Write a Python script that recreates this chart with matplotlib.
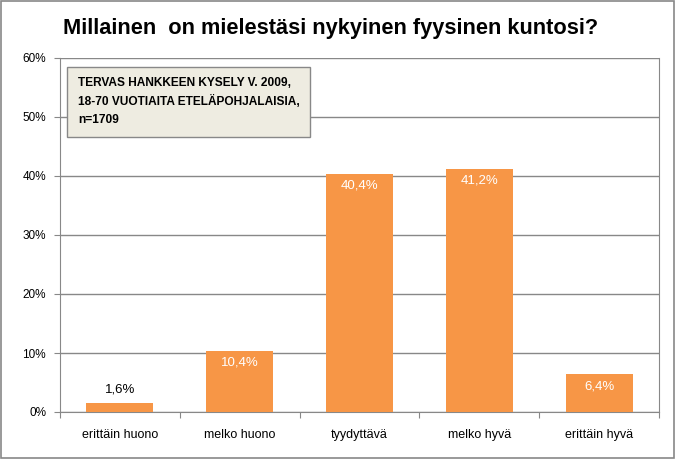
import matplotlib
matplotlib.use('Agg')
import matplotlib.pyplot as plt
from matplotlib.patches import Rectangle

plt.rcParams['font.family'] = ['Liberation Sans', 'DejaVu Sans']

# Survey answers and shares (%)
categories = ['erittäin huono', 'melko huono', 'tyydyttävä', 'melko hyvä', 'erittäin hyvä']
values = [1.6, 10.4, 40.4, 41.2, 6.4]
value_labels = ['1,6%', '10,4%', '40,4%', '41,2%', '6,4%']
yticks = [0, 10, 20, 30, 40, 50, 60]
ytick_labels = ['0%', '10%', '20%', '30%', '40%', '50%', '60%']

bar_color = '#F79646'

fig = plt.figure(figsize=(6.76, 4.59), dpi=100)
ax = fig.add_axes([60 / 676, 47 / 459, 599 / 676, 354 / 459])

# outer chart border
fig.patches.append(Rectangle((0.002, 0.002), 0.995, 0.995, transform=fig.transFigure,
                             fill=False, edgecolor='#888888', linewidth=1.2))

x = range(len(categories))
ax.bar(x, values, width=0.56, color=bar_color, zorder=3)

# value labels: first one above the bar in black, others inside in white
for i, v in enumerate(values):
    if v < 5:
        ax.text(i, v + 1.2, value_labels[i], ha='center', va='bottom', fontsize=9.5, color='black')
    else:
        ax.text(i, v - 1.0, value_labels[i], ha='center', va='top', fontsize=9.5, color='white')

ax.set_xlim(-0.5, 4.5)
ax.set_ylim(0, 60)
ax.set_yticks(yticks)
ax.set_yticklabels(ytick_labels, fontsize=8.5)
ax.set_xticks([i + 0.5 for i in range(-1, 5)], minor=False)
ax.set_xticklabels([''] * 6)
ax.set_xticks(list(x), minor=True)
ax.set_xticklabels(categories, minor=True, fontsize=9)
ax.tick_params(axis='x', which='minor', length=0, pad=12)
ax.tick_params(axis='x', which='major', length=4, direction='out', color='#888888')
ax.tick_params(axis='y', length=4, color='#888888', pad=6)

ax.grid(axis='y', color='#888888', linewidth=1, zorder=0)
ax.spines['top'].set_visible(False)
ax.spines['left'].set_color('#888888')
ax.spines['bottom'].set_color('#888888')
ax.spines['right'].set_color('#888888')

fig.text(0.489, 0.938, 'Millainen  on mielestäsi nykyinen fyysinen kuntosi?',
         ha='center', va='center', fontsize=15.7, fontweight='bold')

# info box
ax.text(0.03, 0.945, 'TERVAS HANKKEEN KYSELY V. 2009,\n18-70 VUOTIAITA ETELÄPOHJALAISIA,\nn=1709',
        transform=ax.transAxes, ha='left', va='top', fontsize=8.6, fontweight='bold',
        linespacing=1.6,
        bbox=dict(boxstyle='square,pad=0.9', facecolor='#EEECE1', edgecolor='#888888'),
        zorder=5)

fig.savefig('out.png', dpi=100)
